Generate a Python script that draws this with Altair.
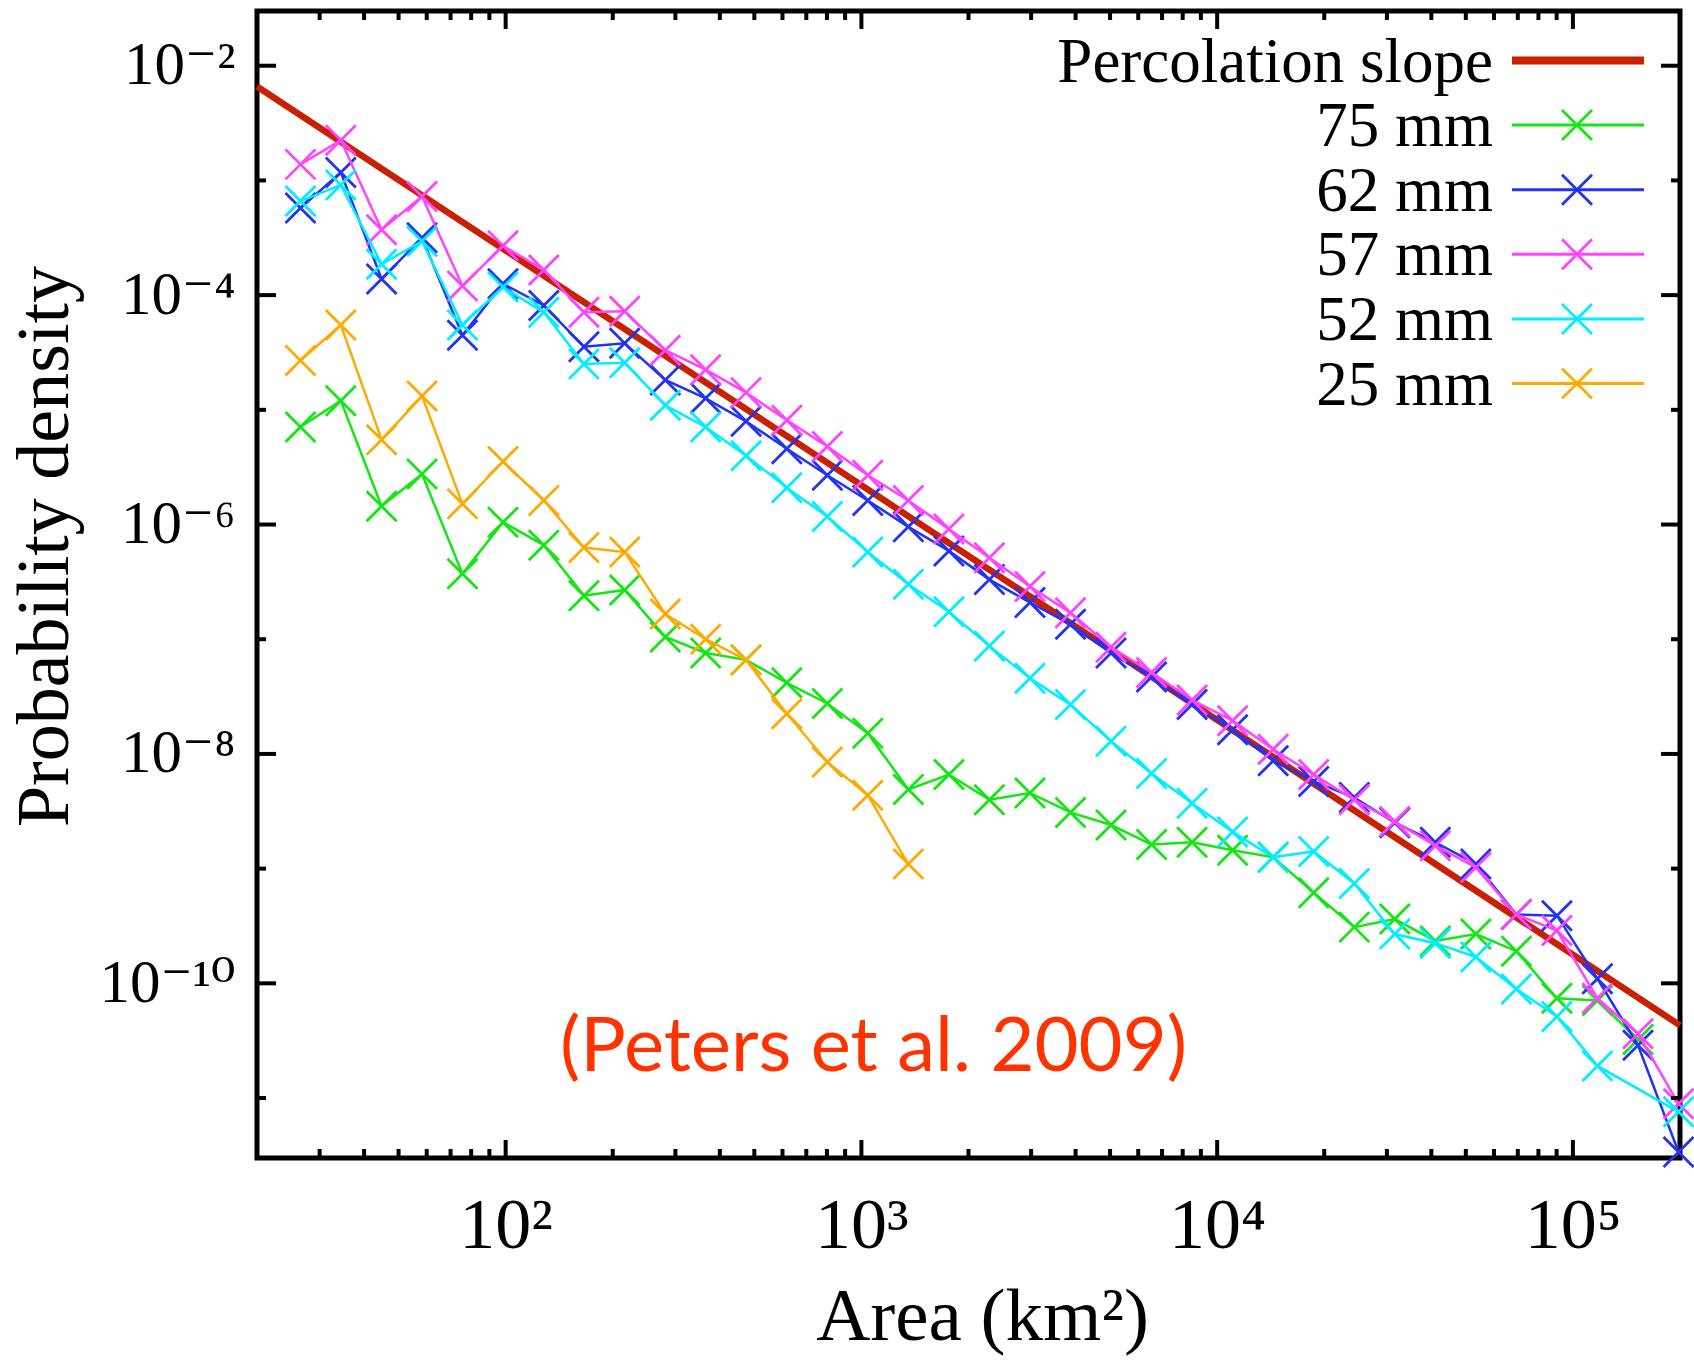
import altair as alt
import pandas as pd

# ---------------- data ----------------
# bin centres of the area histogram (km^2)
AREA_KM2 = [26.5, 34.4, 44.8, 58.2, 75.6, 98.3, 128, 166, 216, 281, 365, 474,
            617, 802, 1042, 1355, 1762, 2290, 2977, 3870, 5031, 6540, 8502,
            11050, 14370, 18680, 24290, 31570, 41040, 53360, 69360, 90170,
            117200, 152400, 198100]

# log10 of probability density per bin (None = no point)
LOG_P_75 = [-5.15, -4.92, -5.84, -5.56, -6.43, -5.98, -6.18, -6.62, -6.57, -6.98,
            -7.12, -7.18, -7.38, -7.56, -7.82, -8.31, -8.18, -8.40, -8.34, -8.51,
            -8.62, -8.79, -8.77, -8.84, -8.90, -9.21, -9.51, -9.44, -9.63, -9.57,
            -9.72, -10.13, -10.15, -10.49, None]
LOG_P_62 = [-3.24, -2.93, -3.86, -3.50, -4.35, -3.90, -4.09, -4.45, -4.42, -4.74,
            -4.90, -5.10, -5.34, -5.57, -5.79, -6.02, -6.23, -6.48, -6.68, -6.87,
            -7.12, -7.33, -7.57, -7.79, -8.06, -8.24, -8.38, -8.60, -8.77, -8.96,
            -9.40, -9.41, -9.96, -10.54, -11.47]
LOG_P_57 = [-2.86, -2.65, -3.43, -3.14, -3.92, -3.57, -3.78, -4.15, -4.14, -4.48,
            -4.65, -4.85, -5.09, -5.32, -5.57, -5.79, -6.04, -6.29, -6.54, -6.77,
            -7.07, -7.29, -7.53, -7.71, -7.96, -8.18, -8.40, -8.59, -8.80, -8.99,
            -9.40, -9.54, -10.13, -10.44, -11.05]
LOG_P_52 = [-3.18, -3.04, -3.73, -3.53, -4.26, -3.93, -4.15, -4.60, -4.59, -4.96,
            -5.15, -5.40, -5.68, -5.93, -6.24, -6.52, -6.76, -7.06, -7.34, -7.57,
            -7.89, -8.17, -8.43, -8.68, -8.90, -8.85, -9.13, -9.57, -9.65, -9.77,
            -10.05, -10.29, -10.72, None, -11.12]
LOG_P_25 = [-4.57, -4.26, -5.26, -4.88, -5.82, -5.45, -5.79, -6.20, -6.24, -6.78,
            -7.00, -7.18, -7.65, -8.07, -8.36, -8.96] + [None] * 19

SERIES_NAMES = ["75 mm", "62 mm", "57 mm", "52 mm", "25 mm"]
SERIES_LOGP = [LOG_P_75, LOG_P_62, LOG_P_57, LOG_P_52, LOG_P_25]
SERIES_COLORS = ["#14e614", "#2233f2", "#ff44ff", "#00eeff", "#ffaa00"]

SLOPE_NAME = "Percolation slope"
SLOPE_AREA = [20, 200000]
SLOPE_P = [6.6e-3, 4.3e-11]
SLOPE_COLOR = "#c82000"

X_LABEL_VALUES = [100, 1000, 10000, 100000]
X_LABELS = ["10\u00b2", "10\u00b3", "10\u2074", "10\u2075"]
Y_LABEL_VALUES = [1e-2, 1e-4, 1e-6, 1e-8, 1e-10]
Y_LABELS = ["10\u207b\u00b2", "10\u207b\u2074", "10\u207b\u2076", "10\u207b\u2078", "10\u207b\u00b9\u2070"]
Y_MINOR_VALUES = [1e-3, 1e-5, 1e-7, 1e-9, 1e-11]
X_MINOR_VALUES = [m * 10 ** k for k in range(1, 5) for m in range(2, 10)
                  if 20 < m * 10 ** k < 200000]

NOTE = "(Peters et al. 2009)"

# ---------------- layout / style ----------------
W, H = 1423, 1147
SERIF = "Liberation Serif, DejaVu Serif"
XPATH = "M-1,-1L1,1M-1,1L1,-1"

xs = alt.Scale(type="log", domain=[20, 200000], nice=False)
ys = alt.Scale(type="log", domain=[3e-12, 3e-2], nice=False)

x_label_expr = "[" + ",".join("'%s'" % s for s in X_LABELS) + "][round(log(datum.value)/LN10)-2]"
y_label_expr = "[" + ",".join("'%s'" % s for s in Y_LABELS) + "][round(-log(datum.value)/LN10/2)-1]"

x_axis = alt.Axis(values=X_LABEL_VALUES, labelExpr=x_label_expr, labelFont=SERIF,
                  labelFontSize=72, labelColor="black", labelPadding=32,
                  labelBaseline="top", labelFlush=False, labelOverlap=False,
                  ticks=False, domain=False, grid=False,
                  title="Area (km\u00b2)", titleFont=SERIF, titleFontSize=75,
                  titleFontWeight="normal", titleColor="black", titleX=725, titleY=181,
                  titleAlign="center", titleBaseline="alphabetic")
y_axis = alt.Axis(values=Y_LABEL_VALUES, labelExpr=y_label_expr, labelFont=SERIF,
                  labelFontSize=61, labelColor="black", labelPadding=22,
                  labelFlush=False, labelOverlap=False,
                  ticks=False, domain=False, grid=False,
                  title="Probability density", titleFont=SERIF, titleFontSize=74,
                  titleFontWeight="normal", titleColor="black", titleX=-190, titleY=535,
                  titleAngle=270, titleAlign="center", titleBaseline="alphabetic")


def X(field):
    return alt.X(field, scale=xs, axis=x_axis)


def Y(field):
    return alt.Y(field, scale=ys, axis=y_axis)


layers = []

# percolation slope line
slope_df = pd.DataFrame({"area": SLOPE_AREA, "p": SLOPE_P})
layers.append(alt.Chart(slope_df).mark_line(color=SLOPE_COLOR, strokeWidth=6.5).encode(
    x=X("area:Q"), y=Y("p:Q")))

# data series
for name, logp, color in zip(SERIES_NAMES, SERIES_LOGP, SERIES_COLORS):
    rows = [(a, 10 ** v) for a, v in zip(AREA_KM2, logp) if v is not None]
    df = pd.DataFrame(rows, columns=["area", "p"])
    layers.append(alt.Chart(df).mark_line(color=color, strokeWidth=2.5).encode(
        x=X("area:Q"), y=Y("p:Q")))
    layers.append(alt.Chart(df).mark_point(shape=XPATH, filled=False, size=900,
                                           strokeWidth=2.8, color=color, opacity=1).encode(
        x=X("area:Q"), y=Y("p:Q")))


# inward ticks on all four sides
def xticks(vals, length):
    df = pd.DataFrame({"area": vals})
    bot = alt.Chart(df).mark_rule(color="black", strokeWidth=4).encode(
        x=X("area:Q"), y=alt.value(H), y2=alt.value(H - length))
    top = alt.Chart(df).mark_rule(color="black", strokeWidth=4).encode(
        x=X("area:Q"), y=alt.value(0), y2=alt.value(length))
    return [bot, top]


def yticks(vals, length):
    df = pd.DataFrame({"p": vals})
    left = alt.Chart(df).mark_rule(color="black", strokeWidth=4).encode(
        y=Y("p:Q"), x=alt.value(0), x2=alt.value(length))
    right = alt.Chart(df).mark_rule(color="black", strokeWidth=4).encode(
        y=Y("p:Q"), x=alt.value(W), x2=alt.value(W - length))
    return [left, right]


layers += xticks(X_LABEL_VALUES, 18) + xticks(X_MINOR_VALUES, 9)
layers += yticks(Y_LABEL_VALUES, 19) + yticks(Y_MINOR_VALUES, 9)

# legend (labels left, samples right, as in gnuplot)
LEG_Y0, LEG_DY = 49.5, 64.6
leg_names = [SLOPE_NAME] + SERIES_NAMES
leg_colors = [SLOPE_COLOR] + SERIES_COLORS
for i, (name, color) in enumerate(zip(leg_names, leg_colors)):
    ry = LEG_Y0 + i * LEG_DY
    df = pd.DataFrame({"t": [name]})
    layers.append(alt.Chart(df).mark_text(align="right", baseline="alphabetic", font=SERIF,
                                          fontSize=63, color="black").encode(
        x=alt.value(1236), y=alt.value(ry + 21), text="t:N"))
    layers.append(alt.Chart(df).mark_rule(color=color, strokeWidth=8 if i == 0 else 3).encode(
        x=alt.value(1255), x2=alt.value(1387), y=alt.value(ry)))
    if i > 0:
        layers.append(alt.Chart(df).mark_point(shape=XPATH, filled=False, size=900,
                                               strokeWidth=2.8, color=color, opacity=1).encode(
            x=alt.value(1320), y=alt.value(ry)))

# citation note
layers.append(alt.Chart(pd.DataFrame({"t": [NOTE]})).mark_text(
    align="center", baseline="alphabetic", font="Lato", fontSize=76, color="#ff3300").encode(
    x=alt.value(616.5), y=alt.value(1060), text="t:N"))

chart = alt.layer(*layers).properties(
    width=W, height=H,
    autosize=alt.AutoSizeParams(type="none"),
    padding={"left": 257, "top": 11, "right": 14, "bottom": 202},
    background="white",
).configure_view(stroke="black", strokeWidth=5)

chart.save("out.html", embed_options={"renderer": "svg", "actions": False})
